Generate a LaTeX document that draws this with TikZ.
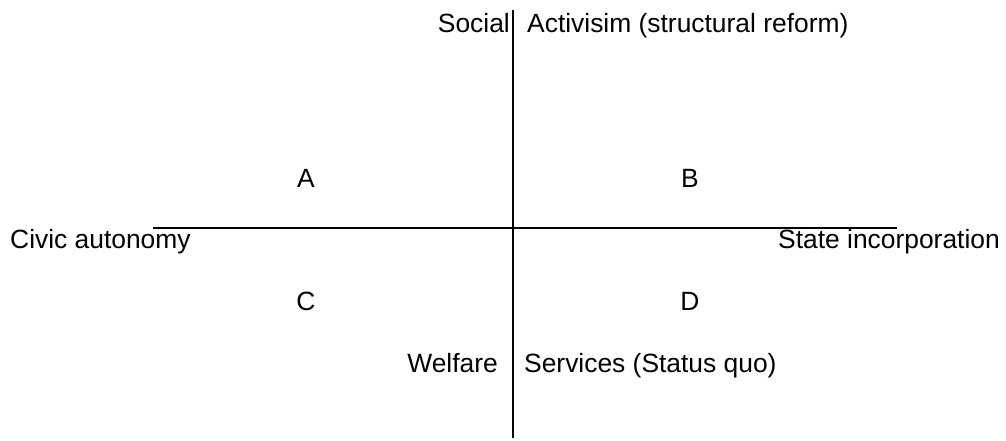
\documentclass[tikz,border=0pt]{standalone}
\usepackage{fontspec}
\setmainfont{Liberation Sans}
\begin{document}
\begin{tikzpicture}[x=1pt,y=1pt,font=\fontsize{26.4}{31}\selectfont,
  axis/.style={black,line width=1.5pt},
  quad/.style={anchor=base}]
  \useasboundingbox (0,0) rectangle (1006,441);
  % axes
  \coordinate (top) at (513,431);
  \coordinate (bottom) at (513,3);
  \coordinate (left) at (153,213);
  \coordinate (right) at (897,213);
  \draw[axis] (bottom) -- (top);
  \draw[axis] (left) -- (right);
  % axis labels
  \node[anchor=base east,inner sep=0pt] (social) at (510,408) {Social};
  \node[anchor=base west,inner sep=0pt] (activism) at (527,408) {Activisim (structural reform)};
  \node[anchor=base west,inner sep=0pt] (civic) at (10,192) {Civic autonomy};
  \node[anchor=base west,inner sep=0pt] (state) at (778,192) {State incorporation};
  \node[anchor=base east,inner sep=0pt] (welfare) at (498,68) {Welfare};
  \node[anchor=base west,inner sep=0pt] (services) at (524,68) {Services (Status quo)};
  % quadrants
  \node[quad] (qa) at (306,253) {A};
  \node[quad] (qb) at (690,253) {B};
  \node[quad] (qc) at (306,130) {C};
  \node[quad] (qd) at (690,130) {D};
\end{tikzpicture}
\end{document}
